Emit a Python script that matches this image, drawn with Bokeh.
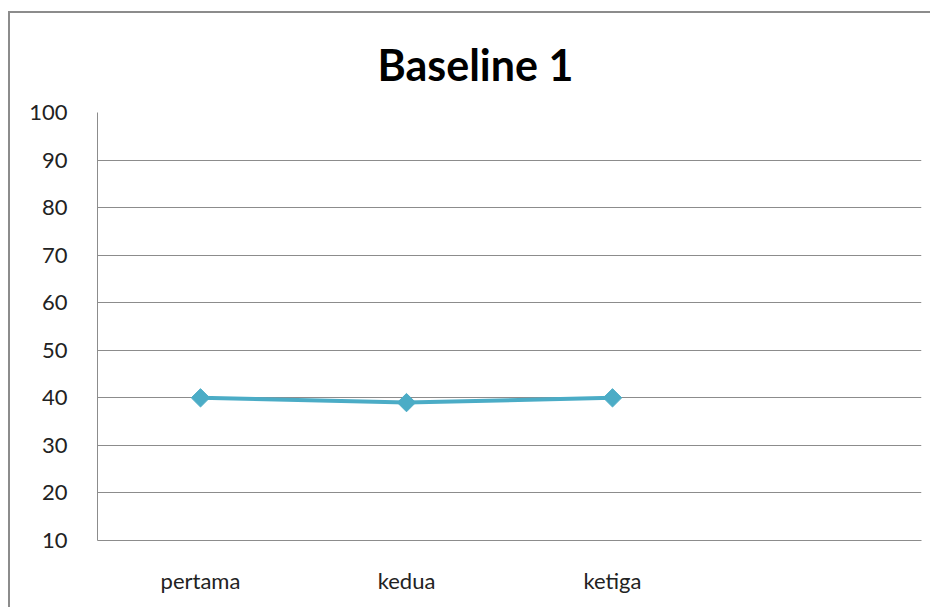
import math
from bokeh.plotting import figure
from bokeh.models import FactorRange, Range1d, FixedTicker
from bokeh.embed import file_html
from bokeh.resources import INLINE

categories = ["pertama", "kedua", "ketiga"]
slots = categories + [" "]
values = [40, 39, 40]
y_ticks = [10, 20, 30, 40, 50, 60, 70, 80, 90, 100]
title_text = "Baseline 1"

FONT = "Lato"
LINE = "#4bacc6"
GRID = "#8c8c8c"

p = figure(width=922, height=596, x_range=FactorRange(factors=slots, range_padding=0),
           y_range=Range1d(10, 100), output_backend="svg", toolbar_location=None,
           title=title_text, min_border_left=87, min_border_right=11,
           min_border_top=99, min_border_bottom=69)
p.margin = (11, 0, 0, 8)
p.styles = {"border-top": "2px solid #8c8c8c", "border-left": "2px solid #8c8c8c"}

p.title.align = "left"
p.title.offset = 280
p.title.standoff = 45
p.title.text_font = FONT
p.title.text_font_size = "43px"
p.title.text_font_style = "bold"
p.title.text_color = "#000000"

p.outline_line_color = None
p.background_fill_color = "white"
p.border_fill_color = "white"

p.yaxis.ticker = FixedTicker(ticks=y_ticks)
p.yaxis.major_tick_line_color = None
p.yaxis.minor_tick_line_color = None
p.yaxis.axis_line_color = GRID
p.yaxis.major_label_text_font = FONT
p.yaxis.major_label_text_font_size = "22px"
p.yaxis.major_label_text_color = "#222222"
p.yaxis.major_label_standoff = 24

p.xaxis.major_tick_line_color = None
p.xaxis.minor_tick_line_color = None
p.xaxis.axis_line_color = GRID
p.xaxis.major_label_text_font = FONT
p.xaxis.major_label_text_font_size = "22px"
p.xaxis.major_label_text_color = "#222222"
p.xaxis.major_label_standoff = 20

p.xgrid.grid_line_color = None
p.ygrid.grid_line_color = GRID
p.ygrid.grid_line_width = 1

p.line(categories, values, line_color=LINE, line_width=4)
p.scatter(categories, values, marker="square", size=13, angle=math.pi / 4,
          fill_color=LINE, line_color=LINE)

open("out.html", "w").write(file_html(p, INLINE))
